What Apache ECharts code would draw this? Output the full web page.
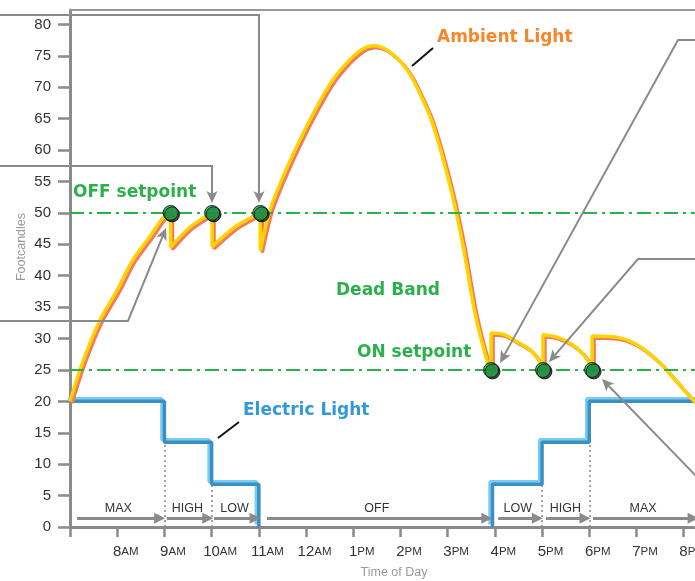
<!DOCTYPE html>
<html>
<head>
<meta charset="utf-8">
<script src="https://cdn.jsdelivr.net/npm/echarts@6/dist/echarts.min.js"></script>
<style>
  html, body { margin: 0; padding: 0; background: #fff; }
  #chart { width: 695px; height: 581px; }
</style>
</head>
<body>
<div id="chart"></div>
<script>
// time is in decimal hours (7 = 7AM, 13 = 1PM)
const hourTicks = [7, 8, 9, 10, 11, 12, 13, 14, 15, 16, 17, 18, 19, 20];
const hourLabels = ['', '8AM', '9AM', '10AM', '11AM', '12AM', '1PM', '2PM', '3PM', '4PM', '5PM', '6PM', '7PM', '8PM'];
const footcandleTicks = [0, 5, 10, 15, 20, 25, 30, 35, 40, 45, 50, 55, 60, 65, 70, 75, 80];

// ambient light (footcandles)
const ambientLight = [
  [7.0, 20], [7.21, 25], [7.42, 29.2], [7.64, 33], [8.0, 37.7], [8.33, 42.5], [8.69, 46.2],
  [8.97, 49.2], [9.13, 50], [9.13, 44.5], [9.55, 47.8], [10.01, 50], [10.01, 44.6],
  [10.5, 47.8], [11.03, 50], [11.03, 44], [11.24, 50.5], [11.51, 55.7], [11.87, 61.6],
  [12.23, 66.9], [12.57, 71.2], [12.93, 74.4], [13.2, 76.1], [13.42, 76.6], [13.6, 76.4],
  [13.78, 75.6], [14.0, 74.1], [14.14, 72.8], [14.27, 71.2], [14.63, 65.3], [14.87, 59.5],
  [15.11, 52.5], [15.33, 44.6], [15.58, 34], [15.83, 26.6], [15.92, 25], [15.92, 30.9],
  [16.17, 30.7], [16.47, 29.5], [16.75, 28.2], [16.92, 26.6], [17.02, 25], [17.02, 30.6],
  [17.28, 30.3], [17.59, 29.3], [17.85, 27.7], [18.0, 26.1], [18.06, 25], [18.06, 30.4],
  [18.65, 30.1], [19.08, 28.7], [19.5, 26.1], [19.82, 23.4], [20.14, 20.7], [20.3, 19.5]
];

// electric light output levels
const electricMorning = [[7, 20], [9, 13.5], [10, 6.8], [11, 0]];
const electricEvening = [[15.95, 0], [15.95, 6.8], [17, 13.5], [18, 20], [20.3, 20]];

const offSetpoint = 50;
const onSetpoint = 25;
const switchPoints = [[9.13, 50], [10.01, 50], [11.03, 50], [15.92, 25], [17.02, 25], [18.06, 25]];
const stepGuides = [[9, 13.5], [10, 6.8], [17, 6.8], [18, 13.5]];

const modeNames = ['MAX', 'HIGH', 'LOW', 'OFF', 'LOW', 'HIGH', 'MAX'];
const modeStart = [7.15, 9.05, 10.05, 11.17, 16.07, 17.08, 18.08];
const modeEnd = [8.9, 9.92, 10.92, 15.83, 16.9, 17.91, 20.2];
const modeY = 1.4;

const GREEN = '#2bb04b';
const GRAY = '#8a8a8a';

// callout leaders, pixel paths, last point is the arrow tip
const callouts = [
  [[0, 15], [259, 15], [259, 203]],
  [[0, 166], [212, 166], [212, 203]],
  [[0, 321], [128, 321], [166, 228]],
  [[697, 40], [678, 40], [500, 363]],
  [[697, 259], [638, 259], [549, 362]],
  [[697, 477], [602, 379]]
];

function arrowParts(path) {
  const tip = path[path.length - 1], from = path[path.length - 2];
  const dx = tip[0] - from[0], dy = tip[1] - from[1];
  const L = Math.hypot(dx, dy), ux = dx / L, uy = dy / L;
  const len = 12, half = 5.5;
  const bx = tip[0] - ux * len, by = tip[1] - uy * len;
  const notch = [tip[0] - ux * len * 0.75, tip[1] - uy * len * 0.75];
  const line = path.slice(0, -1).concat([notch]);
  const head = [tip, [bx - uy * half, by + ux * half], notch, [bx + uy * half, by - ux * half]];
  return [
    { type: 'polyline', shape: { points: line }, style: { stroke: GRAY, lineWidth: 2, fill: null }, z: 100 },
    { type: 'polygon', shape: { points: head }, style: { fill: GRAY }, z: 100 }
  ];
}

const graphics = [];
callouts.forEach(p => graphics.push(...arrowParts(p)));

function label(text, x, y, color) {
  return {
    type: 'text', left: x, top: y - 11, z: 100,
    style: { text: text, fill: color, font: 'bold 17px "DejaVu Sans"' }
  };
}
graphics.push(label('OFF setpoint', 73, 195, GREEN));
graphics.push(label('Dead Band', 336, 293, GREEN));
graphics.push(label('ON setpoint', 357, 355, GREEN));
graphics.push(label('Ambient Light', 437, 40, '#f5872b'));
graphics.push(label('Electric Light', 243, 413, '#3399d8'));
graphics.push({ type: 'line', shape: { x1: 412, y1: 66, x2: 433, y2: 48 }, style: { stroke: '#111', lineWidth: 2 }, z: 100 });
graphics.push({ type: 'line', shape: { x1: 218, y1: 438, x2: 239, y2: 422 }, style: { stroke: '#111', lineWidth: 2 }, z: 100 });
graphics.push({
  type: 'text', x: 22, y: 247, rotation: Math.PI / 2, z: 100,
  style: { text: 'Footcandles', fill: '#999', font: '12.5px "Liberation Sans"', align: 'center', verticalAlign: 'middle' }
});
graphics.push({
  type: 'text', x: 394, y: 573, z: 100,
  style: { text: 'Time of Day', fill: '#999', font: '12.5px "Liberation Sans"', align: 'center', verticalAlign: 'middle' }
});

const chart = echarts.init(document.getElementById('chart'));

const option = {
  animation: false,
  textStyle: { fontFamily: 'Liberation Sans' },
  grid: { left: 70, top: 10, right: 0, bottom: 54, outerBoundsMode: 'none', containLabel: false },
  xAxis: [{
    type: 'value', min: 7, max: 20.24, interval: 1,
    axisLine: { lineStyle: { color: GRAY, width: 3 } },
    axisTick: { length: 10, lineStyle: { color: GRAY, width: 2.5 }, customValues: hourTicks },
    splitLine: { show: false },
    axisLabel: {
      margin: 17,
      customValues: hourTicks,
      formatter: v => {
        const s = hourLabels[hourTicks.indexOf(v)] || '';
        if (!s) return '';
        return '{pad|}{n|' + s.slice(0, -2) + '}{s|' + s.slice(-2) + '}';
      },
      rich: {
        pad: { width: 17 },
        n: { fontSize: 15, color: '#333' },
        s: { fontSize: 11.5, color: '#333' }
      }
    }
  }, {
    type: 'value', min: 7, max: 20.24, position: 'top',
    axisLine: { show: true, lineStyle: { color: '#999', width: 2 } },
    axisTick: { show: false }, axisLabel: { show: false }, splitLine: { show: false }
  }],
  yAxis: {
    type: 'value', min: 0, max: 82.3,
    axisLine: { show: true, lineStyle: { color: GRAY, width: 3 } },
    axisTick: { show: true, length: 12, lineStyle: { color: GRAY, width: 2.5 }, customValues: footcandleTicks },
    splitLine: { show: false },
    axisLabel: { margin: 19, fontSize: 15, color: '#333', customValues: footcandleTicks }
  },
  graphic: graphics,
  series: [
    {
      name: 'guides', type: 'line', data: [], silent: true,
      markLine: {
        silent: true, symbol: 'none', animation: false,
        label: { show: false },
        data: [
          { yAxis: offSetpoint, lineStyle: { color: GREEN, width: 2, type: [14, 5, 3, 5] } },
          { yAxis: onSetpoint, lineStyle: { color: GREEN, width: 2, type: [14, 5, 3, 5] } }
        ].concat(stepGuides.map(g => [
          { coord: [g[0], 0], lineStyle: { color: '#888', width: 1.5, type: [2, 3] } },
          { coord: [g[0], g[1]] }
        ]))
      }
    },
    {
      name: 'modes', type: 'line', data: [], silent: true,
      markLine: {
        silent: true, animation: false,
        symbol: ['none', 'triangle'], symbolSize: 11,
        lineStyle: { color: GRAY, width: 3, type: 'solid' },
        label: {
          show: true, position: 'insideMiddleTop', distance: 3, formatter: '{b}',
          color: '#333', fontSize: 12.5
        },
        data: modeNames.map((n, i) => [
          { name: n, coord: [modeStart[i], modeY] },
          { coord: [modeEnd[i], modeY] }
        ])
      }
    },
    {
      name: 'Electric Light', type: 'line', step: 'end', data: electricMorning,
      symbol: 'none', z: 3,
      lineStyle: { color: '#3a8fc4', width: 3.5, shadowColor: '#78cdf0', shadowOffsetX: -2.5, shadowOffsetY: -2.5, shadowBlur: 0 }
    },
    {
      name: 'Electric Light 2', type: 'line', step: 'end', data: electricEvening,
      symbol: 'none', z: 3,
      lineStyle: { color: '#3a8fc4', width: 3.5, shadowColor: '#78cdf0', shadowOffsetX: -2.5, shadowOffsetY: -2.5, shadowBlur: 0 }
    },
    {
      name: 'Ambient Light', type: 'line', data: ambientLight,
      symbol: 'none', z: 4, smooth: 0.3,
      lineStyle: { color: '#ffd200', width: 3.5, shadowColor: '#f07c5c', shadowOffsetX: 2, shadowOffsetY: 2, shadowBlur: 0 }
    },
    {
      name: 'switch', type: 'scatter', data: switchPoints, symbolSize: 15, z: 5,
      itemStyle: {
        color: '#22a84a', borderColor: '#0b0b0b', borderWidth: 1,
        shadowColor: 'rgba(0,0,0,0.9)', shadowOffsetX: 1.5, shadowOffsetY: 1.5, shadowBlur: 0
      }
    }
  ]
};

chart.setOption(option);
</script>
</body>
</html>
